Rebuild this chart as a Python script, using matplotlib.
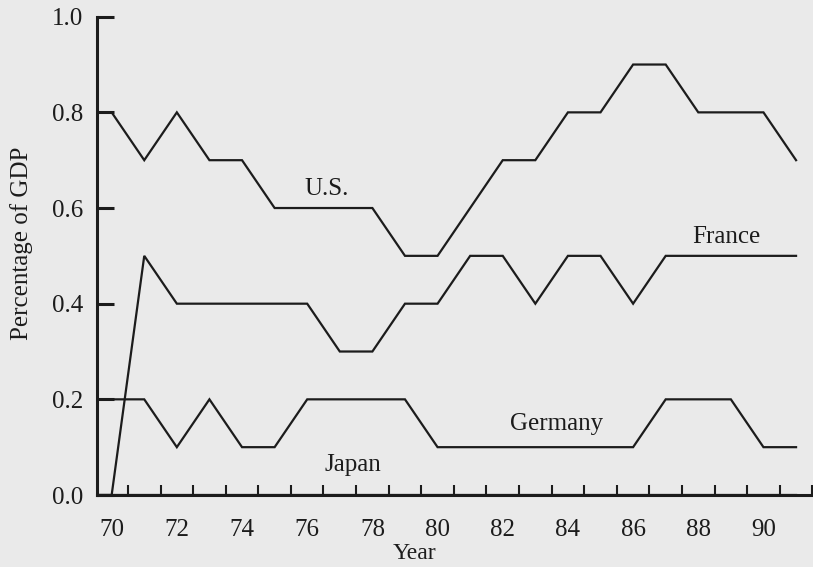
import numpy as np
import matplotlib
matplotlib.use('Agg')
import matplotlib.pyplot as plt
from matplotlib.ticker import FixedLocator


years = list(range(69, 92))
us = [0.8, 0.8, 0.7, 0.8, 0.7, 0.7, 0.6, 0.6, 0.6, 0.6, 0.5, 0.5,
      0.6, 0.7, 0.7, 0.8, 0.8, 0.9, 0.9, 0.8, 0.8, 0.8, 0.7]
france = [0.0, 0.0, 0.5, 0.4, 0.4, 0.4, 0.4, 0.4, 0.3, 0.3, 0.4, 0.4,
          0.5, 0.5, 0.4, 0.5, 0.5, 0.4, 0.5, 0.5, 0.5, 0.5, 0.5]
germany = [0.2, 0.2, 0.2, 0.1, 0.2, 0.1, 0.1, 0.2, 0.2, 0.2, 0.2, 0.1,
           0.1, 0.1, 0.1, 0.1, 0.1, 0.1, 0.2, 0.2, 0.2, 0.1, 0.1]
japan = [0.0] * len(years)

# where each country's name sits (year, value)
labels = {'U.S.': (76.6, 0.64), 'France': (88.85, 0.54),
          'Germany': (83.65, 0.148), 'Japan': (77.4, 0.063)}
x_ticks = list(range(70, 91, 2))
y_ticks = [0.0, 0.2, 0.4, 0.6, 0.8, 1.0]

INK = '#1c1c1c'
PAPER = '#eaeaea'
plt.rcParams['font.family'] = ['Liberation Serif', 'DejaVu Serif']

fig = plt.figure(figsize=(8.13, 5.67), dpi=100, facecolor=PAPER)
ax = fig.add_axes([97 / 813, 1 - 495 / 567, 1 - 97 / 813, (495 - 16.7) / 567])
ax.set_facecolor(PAPER)

for series in (us, france, germany, japan):
    ax.plot(years, series, color=INK, lw=1.6, solid_joinstyle='miter')

for name, (x, y) in labels.items():
    ax.text(x, y, name, ha='center', va='center', fontsize=18, color=INK)

ax.set_xlim(69.55, 91.52)
ax.set_ylim(0, 1.0)

for side in ('top', 'right'):
    ax.spines[side].set_visible(False)
for side in ('left', 'bottom'):
    ax.spines[side].set_linewidth(2.2)
    ax.spines[side].set_color(INK)

ax.set_yticks(y_ticks)
ax.set_yticklabels([f'{v:.1f}' for v in y_ticks])
ax.tick_params(axis='y', direction='in', length=12, width=2.2, color=INK,
               labelsize=18, labelcolor=INK, pad=10)

ax.set_xticks(x_ticks)
ax.set_xticklabels([str(v) for v in x_ticks])
ax.xaxis.set_minor_locator(FixedLocator([y + 0.5 for y in range(70, 92)]))
ax.tick_params(axis='x', which='major', length=0, labelsize=18,
               labelcolor=INK, pad=17)
ax.tick_params(axis='x', which='minor', direction='in', length=7,
               width=1.5, color=INK)

ax.set_xlabel('Year', fontsize=17, color=INK)
ax.xaxis.set_label_coords(0.443, -0.100)
ax.set_ylabel('Percentage of GDP', fontsize=18, color=INK)
ax.yaxis.set_label_coords(-0.089, 0.527)

fig.savefig('out.png', dpi=100, facecolor=PAPER)
